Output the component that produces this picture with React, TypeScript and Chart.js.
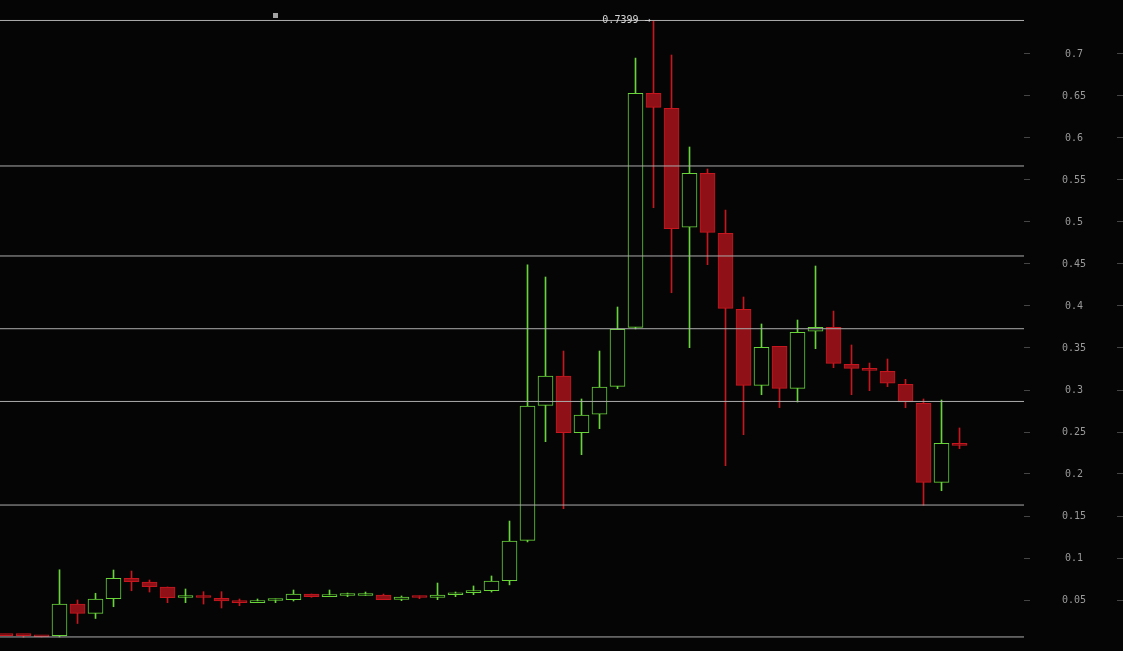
import { useEffect, useRef } from 'react';
import { Chart, registerables } from 'chart.js';

Chart.register(...registerables);

// ---- Data ----
const opens = [
  0.0082, 0.0082, 0.0070, 0.0075, 0.045, 0.034, 0.0516, 0.0758, 0.0714, 0.0655,
  0.0530, 0.0534, 0.052, 0.0488, 0.0468, 0.0494, 0.0504, 0.0571, 0.054, 0.0554,
  0.0554, 0.056, 0.0508, 0.0534, 0.0532, 0.0563, 0.0587, 0.061, 0.073, 0.121,
  0.2817, 0.3167, 0.2492, 0.2711, 0.3044, 0.3746, 0.6532, 0.6353, 0.4937, 0.558,
  0.4865, 0.396, 0.3056, 0.352, 0.302, 0.3699, 0.3746, 0.3306, 0.325, 0.3222,
  0.3067, 0.2841, 0.1901, 0.2365,
];
const highs = [
  0.0082, 0.0082, 0.0070, 0.086, 0.050, 0.058, 0.0857, 0.0845, 0.0738, 0.0655,
  0.0631, 0.0599, 0.0599, 0.0512, 0.0512, 0.0512, 0.0619, 0.0571, 0.0619, 0.0583,
  0.0595, 0.0571, 0.0548, 0.0548, 0.0702, 0.0595, 0.0667, 0.0786, 0.144, 0.449,
  0.4345, 0.3464, 0.2893, 0.3464, 0.3988, 0.6952, 0.7399, 0.6988, 0.5893, 0.5631,
  0.5143, 0.4107, 0.3786, 0.352, 0.3833, 0.4476, 0.394, 0.3536, 0.3321, 0.3369,
  0.3127, 0.2893, 0.2881, 0.2548,
];
const lows = [
  0.0076, 0.0056, 0.0060, 0.006, 0.022, 0.028, 0.042, 0.061, 0.0595, 0.0468,
  0.0468, 0.0452, 0.0405, 0.0432, 0.0468, 0.0468, 0.0488, 0.0532, 0.054, 0.054,
  0.0554, 0.0504, 0.0492, 0.0516, 0.0504, 0.054, 0.0563, 0.0595, 0.068, 0.119,
  0.2385, 0.1587, 0.223, 0.254, 0.3016, 0.3726, 0.517, 0.4158, 0.3504, 0.4492,
  0.2099, 0.2468, 0.2944, 0.279, 0.2857, 0.3492, 0.3266, 0.2944, 0.2992, 0.304,
  0.2789, 0.1627, 0.1801, 0.2302,
];
const closes = [
  0.0076, 0.0076, 0.0062, 0.045, 0.034, 0.051, 0.0758, 0.0718, 0.066, 0.0528,
  0.0534, 0.0530, 0.049, 0.0468, 0.0488, 0.0498, 0.0571, 0.054, 0.056, 0.0558,
  0.0558, 0.0504, 0.0536, 0.0530, 0.056, 0.0583, 0.0607, 0.0726, 0.120, 0.281,
  0.3167, 0.2492, 0.2702, 0.3036, 0.3722, 0.6532, 0.6365, 0.492, 0.558, 0.4877,
  0.3972, 0.3056, 0.3508, 0.302, 0.3687, 0.3746, 0.3317, 0.3258, 0.3234, 0.308,
  0.2857, 0.1901, 0.2365, 0.2341,
];

const yTickValues = [0.05, 0.1, 0.15, 0.2, 0.25, 0.3, 0.35, 0.4, 0.45, 0.5, 0.55, 0.6, 0.65, 0.7];
const yTickLabels = ['0.05', '0.1', '0.15', '0.2', '0.25', '0.3', '0.35', '0.4', '0.45', '0.5', '0.55', '0.6', '0.65', '0.7'];

// Fibonacci retracement drawn between the swing high and low
const fibRatios = [0, 0.236, 0.382, 0.5, 0.618, 0.786, 1];
const fibHigh = 0.7399;
const fibLow = 0.006;

// ---- Style ----
const BG = '#050505';
const UP = '#68d43a';
const DOWN_FILL = '#8f1016';
const DOWN_LINE = '#c8161f';
const FIB = '#adadad';
const TICK_COLOR = '#9a9a9a';
const MONO = '"DejaVu Sans Mono", monospace';

const W = 1123;
const H = 651;
const X_MIN = -5.5 / 18;
const X_MAX = (1024 - 5.5) / 18;
const Y_MIN = -9 / 840;
const Y_MAX = 642 / 840;

const overlayPlugin = {
  id: 'overlay',
  afterDraw(chart: any) {
    const { ctx, scales } = chart;
    const xs = scales.x;
    const ys = scales.y;
    const hi = Math.max(...highs);
    const hiIdx = highs.indexOf(hi);
    const px = xs.getPixelForValue(hiIdx);
    const py = ys.getPixelForValue(hi);
    ctx.save();
    ctx.font = `10px ${MONO}`;
    ctx.fillStyle = '#d6d6d6';
    ctx.textAlign = 'right';
    ctx.textBaseline = 'middle';
    ctx.fillText(`${hi.toFixed(4)} \u2192`, px - 3, py);
    ctx.fillStyle = '#a3a3a3';
    ctx.fillRect(chart.chartArea.left + 273, chart.chartArea.top + 13, 5, 5);
    ctx.restore();
  },
};

export default function App() {
  const canvasRef = useRef<HTMLCanvasElement | null>(null);

  useEffect(() => {
    if (!canvasRef.current) return;
    const idx = opens.map((_, i) => i);
    const isUp = (i: number) => closes[i] >= opens[i];

    const bodyData = idx.map((i) => ({ x: i, y: [opens[i], closes[i]] }));
    const wickData = idx.map((i) => ({ x: i, y: [lows[i], highs[i]] }));
    const fibLevels = fibRatios.map((r) => fibHigh - r * (fibHigh - fibLow));

    const fibDatasets = fibLevels.map((lvl) => ({
      type: 'line' as const,
      data: [
        { x: X_MIN, y: lvl },
        { x: X_MAX, y: lvl },
      ],
      borderColor: FIB,
      borderWidth: 1,
      pointRadius: 0,
      fill: false,
      order: -1,
      xAxisID: 'x',
      yAxisID: 'y',
    }));

    const setTicks = (scale: any) => {
      scale.ticks = yTickValues.map((v) => ({ value: v }));
    };

    const chart = new Chart(canvasRef.current, {
      type: 'bar',
      data: {
        datasets: [
          {
            type: 'bar',
            data: bodyData as any,
            backgroundColor: (c: any) => (isUp(c.dataIndex) ? BG : DOWN_FILL),
            borderColor: (c: any) => (isUp(c.dataIndex) ? UP : DOWN_LINE),
            borderWidth: 1,
            borderSkipped: false,
            barThickness: 15,
            minBarLength: 2,
            grouped: false,
            order: 0,
            xAxisID: 'x',
            yAxisID: 'y',
          },
          {
            type: 'bar',
            data: wickData as any,
            backgroundColor: (c: any) => (isUp(c.dataIndex) ? UP : DOWN_LINE),
            borderWidth: 0,
            barThickness: 1,
            grouped: false,
            order: 1,
            xAxisID: 'x',
            yAxisID: 'y',
          },
          ...(fibDatasets as any[]),
        ],
      },
      options: {
        animation: false,
        responsive: true,
        maintainAspectRatio: false,
        layout: { padding: 0 },
        plugins: {
          legend: { display: false },
          tooltip: { enabled: false },
        },
        scales: {
          x: {
            type: 'linear',
            display: false,
            min: X_MIN,
            max: X_MAX,
            offset: false,
          },
          y: {
            type: 'linear',
            position: 'right',
            weight: 0,
            min: Y_MIN,
            max: Y_MAX,
            afterBuildTicks: setTicks,
            afterFit: (s: any) => {
              s.width = 93;
              s.paddingTop = 0;
              s.paddingBottom = 0;
            },
            border: { display: false },
            grid: {
              drawOnChartArea: false,
              drawTicks: true,
              tickLength: 6,
              color: '#454545',
            },
            ticks: {
              padding: 32,
              crossAlign: 'center',
              color: TICK_COLOR,
              font: { family: MONO, size: 10 },
              callback: (_v: any, i: number) => yTickLabels[i],
            },
          },
          y2: {
            type: 'linear',
            position: 'right',
            weight: 1,
            min: Y_MIN,
            max: Y_MAX,
            afterBuildTicks: setTicks,
            afterFit: (s: any) => {
              s.width = 6;
              s.paddingTop = 0;
              s.paddingBottom = 0;
            },
            border: { display: false },
            grid: {
              drawOnChartArea: false,
              drawTicks: true,
              tickLength: 6,
              color: '#454545',
            },
            ticks: { display: false },
          },
        },
      } as any,
      plugins: [overlayPlugin],
    });

    return () => chart.destroy();
  }, []);

  return (
    <div
      style={{
        position: 'fixed',
        left: 0,
        top: 0,
        width: W,
        height: H,
        background: BG,
      }}
    >
      <canvas ref={canvasRef} />
    </div>
  );
}
